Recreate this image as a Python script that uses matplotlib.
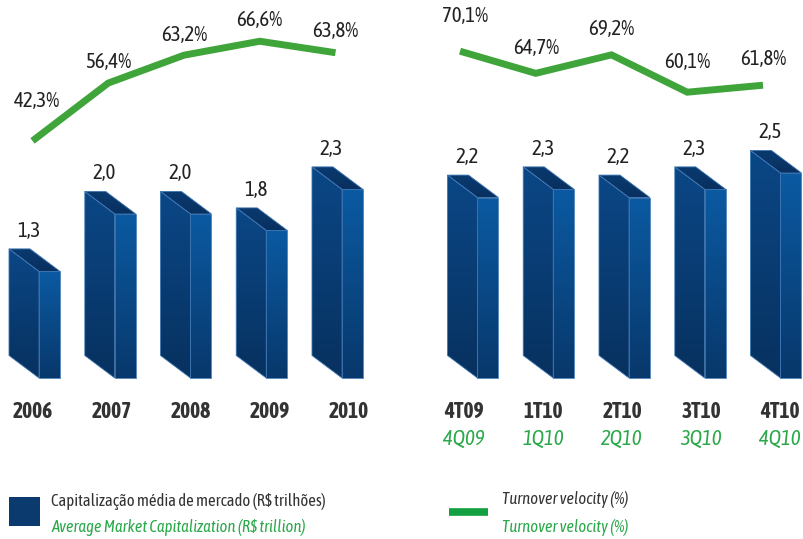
import numpy as np
import matplotlib
matplotlib.use('Agg')
import matplotlib.pyplot as plt
from matplotlib.patches import Polygon, Rectangle
from matplotlib.colors import LinearSegmentedColormap

# ---------------- data ----------------
years = ['2006', '2007', '2008', '2009', '2010']
quarters_pt = ['4T09', '1T10', '2T10', '3T10', '4T10']
quarters_en = ['4Q09', '1Q10', '2Q10', '3Q10', '4Q10']
cap_annual = [1.3, 2.0, 2.0, 1.8, 2.3]
cap_quarterly = [2.2, 2.3, 2.2, 2.3, 2.5]
turnover_annual = [42.3, 56.4, 63.2, 66.6, 63.8]
turnover_quarterly = [70.1, 64.7, 69.2, 60.1, 61.8]
legend_bar_pt = 'Capitalização média de mercado (R$ trilhões)'
legend_bar_en = 'Average Market Capitalization (R$ trillion)'
legend_line_pt = 'Turnover velocity (%)'
legend_line_en = 'Turnover velocity (%)'

# ---------------- style ----------------
FONT = ['Asap Condensed', 'DejaVu Sans']
plt.rcParams['font.family'] = FONT
TXT = '#333333'
GREEN_TXT = '#2aa84a'
LINE_G = '#3fa53a'
LEG_LINE_G = '#12a040'

W, H = 804, 539
fig = plt.figure(figsize=(W / 100, H / 100), dpi=100)

PX_CAT = 75.75      # pixels per category
PX_VAL = 82.0       # pixels per R$ trillion
PX_PCT = 4.1        # pixels per percentage point
BASE = 378          # baseline pixel (from top)
LBL_STEP = 79.0     # spacing of the category labels in pixels


def px2val(p):
    return (BASE - p) / PX_VAL


def gradient_fill(ax, verts, c_top, c_bot, zorder):
    poly = Polygon(verts, closed=True, facecolor='none', edgecolor='#3b74b0',
                   linewidth=0.6, zorder=zorder + 0.1)
    ax.add_patch(poly)
    xs = [v[0] for v in verts]
    ys = [v[1] for v in verts]
    cmap = LinearSegmentedColormap.from_list('g', [c_bot, c_top])
    grad = np.linspace(0, 1, 256).reshape(-1, 1)
    im = ax.imshow(grad, extent=(min(xs), max(xs), min(ys), max(ys)), origin='lower',
                   cmap=cmap, aspect='auto', zorder=zorder, interpolation='bilinear')
    clip = Polygon(verts, closed=True, transform=ax.transData)
    im.set_clip_path(clip)


def draw_panel(rect_px, center0_px, values, labels_top, labels_sub, pct, pct_a,
               line_shift, pct_offsets_px, label0_px):
    x0p, wp = rect_px
    ax = fig.add_axes([x0p / W, 0, wp / W, 1])
    ax.set_autoscale_on(False)
    ax.set_xlim((x0p - center0_px) / PX_CAT, (x0p + wp - center0_px) / PX_CAT)
    ax.set_ylim(px2val(H), px2val(0))
    ax.axis('off')

    fl, fr = 4.5 / PX_CAT, 25.5 / PX_CAT     # front face edges rel. to centre
    dx, dy = -30 / PX_CAT, 22.5 / PX_VAL       # depth offset
    for i, v in enumerate(values):
        a, b = i + fl, i + fr
        side = [(a + dx, dy), (a, 0), (a, v), (a + dx, v + dy)]
        front = [(a, 0), (b, 0), (b, v), (a, v)]
        top = [(a + dx, v + dy), (b + dx, v + dy), (b, v), (a, v)]
        gradient_fill(ax, side, '#0b4786', '#07315f', 2)
        gradient_fill(ax, front, '#0b5aa2', '#08386b', 2)
        gradient_fill(ax, top, '#0a3a70', '#08305f', 2)
        ax.text(i - 6 / PX_CAT, v + dy + 18 / PX_VAL, f'{v:.1f}'.replace('.', ','),
                ha='center', va='center', fontsize=15, color='#222222')

    lx0 = (label0_px - center0_px) / PX_CAT
    for i, (t, s) in enumerate(zip(labels_top, labels_sub)):
        lx = lx0 + i * LBL_STEP / PX_CAT
        ax.text(lx, px2val(412), t, ha='center', va='center', fontsize=15.5,
                fontweight='bold', color=TXT)
        if s:
            ax.text(lx, px2val(439), s, ha='center', va='center', fontsize=15,
                    style='italic', color=GREEN_TXT)

    ax2 = ax.twinx()
    ax2.set_autoscale_on(False)
    ax2.set_ylim((pct_a - H) / PX_PCT, pct_a / PX_PCT)
    ax2.axis('off')
    xs = np.arange(len(pct)) + line_shift / PX_CAT
    ax2.plot(xs, pct, color=LINE_G, lw=5, solid_joinstyle='miter',
             solid_capstyle='butt', zorder=3)
    for k, (x, p, off) in enumerate(zip(xs, pct, pct_offsets_px)):
        nudge = 5 / PX_CAT if k == 0 else 0
        ax2.text(x + nudge, p + off / PX_PCT, f'{p:.1f}%'.replace('.', ','), ha='center',
                 va='center', fontsize=15, color='#222222')


draw_panel((0, 400), 34.5, cap_annual, years, ['', '', '', '', ''],
           turnover_annual, 314.3, -2, [40, 21, 20, 21, 22], 33)
draw_panel((420, 384), 473, cap_quarterly, quarters_pt, quarters_en,
           turnover_quarterly, 338.6, -13, [35, 25, 26, 30, 26], 464)

# ---------------- legend ----------------
lg = fig.add_axes([0, 0, 1, 1])
lg.set_xlim(0, W)
lg.set_ylim(H, 0)
lg.axis('off')
lg.add_patch(Rectangle((9, 497), 31, 29, facecolor='#0b3a6e', edgecolor='none'))
lg.text(51, 501, legend_bar_pt, ha='left', va='center', fontsize=12, color=TXT)
lg.text(51, 527, legend_bar_en, ha='left', va='center', fontsize=12,
        style='italic', color=GREEN_TXT)
lg.plot([449, 488], [512, 512], color=LEG_LINE_G, lw=5.5, solid_capstyle='butt')
lg.text(502, 500, legend_line_pt, ha='left', va='center', fontsize=12,
        style='italic', color=TXT)
lg.text(502, 527, legend_line_en, ha='left', va='center', fontsize=12,
        style='italic', color=GREEN_TXT)

fig.savefig('out.png', dpi=100)
